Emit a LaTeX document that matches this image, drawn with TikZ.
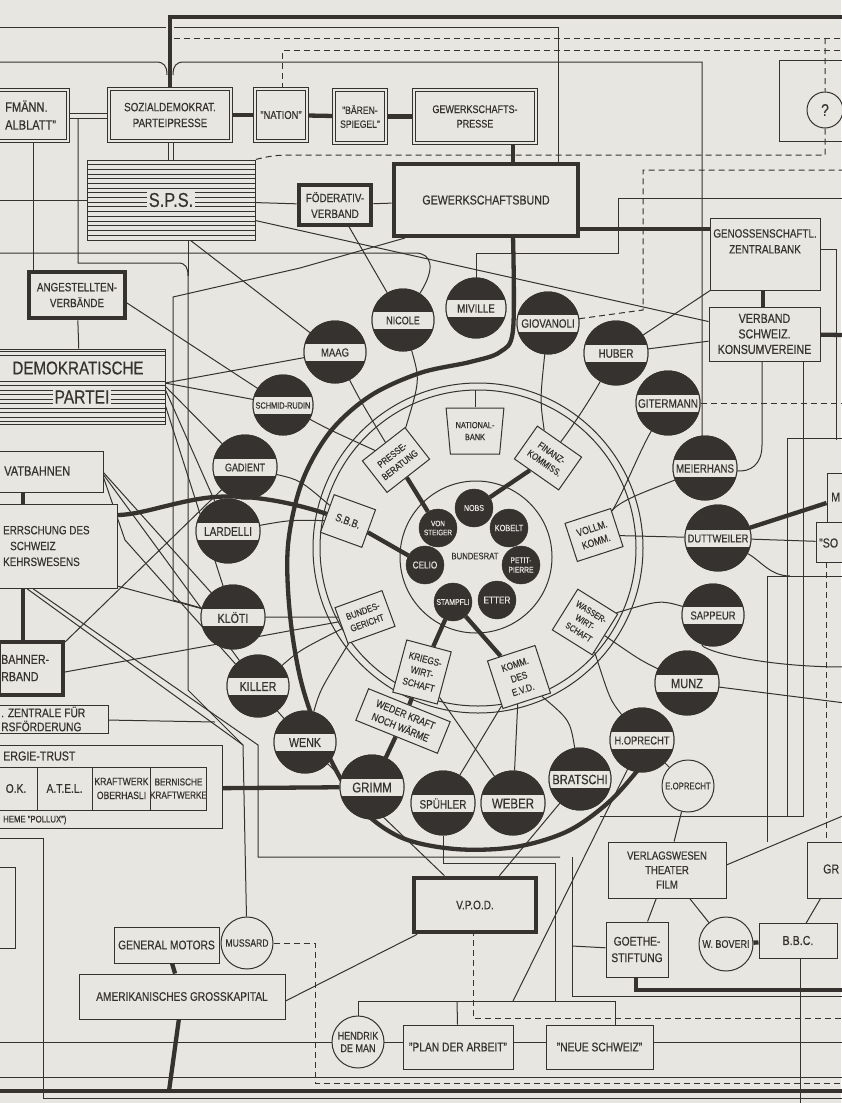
\documentclass[tikz,border=0pt]{standalone}
\usepackage{fontspec}
\setmainfont{Liberation Sans}[FakeStretch=0.82, FakeBold=0.4]
\usetikzlibrary{shapes.geometric}
\definecolor{bg}{HTML}{E7E6E1}
\definecolor{ink}{HTML}{353230}
\pgfdeclarelayer{back}
\pgfsetlayers{back,main}
\newcommand\fs[1]{\fontsize{#1}{\fpeval{1.32*#1}}\selectfont}
\tikzset{
 every node/.style={text=ink, align=center, font=\fs{10}, inner sep=1pt},
 ln/.style={draw=ink, line width=1pt},
 tk/.style={draw=ink, line width=4.3pt},
 dsh/.style={draw=ink, line width=1pt, dash pattern=on 6pt off 4pt},
 bx/.style={draw=ink, fill=bg, line width=1pt, rectangle, inner sep=0pt},
 dbx/.style={bx, double=bg, double distance=2.6pt},
 tbx/.style={bx, line width=4.6pt},
 bd/.style={circle, fill=ink, draw=ink, text=bg, minimum size=38pt, inner sep=0pt, font=\fs{9.5}},
 rb/.style={bx, inner sep=2pt, font=\fs{9.5}},
}
% \pers[label size]{name}{x}{y}{radius}{label}
\newcommand\pers[6][12]{%
 \node[circle,fill=ink,draw=ink,line width=1pt,minimum size=#5*2pt,inner sep=0pt] (#2) at (#3,#4) {};
 \begin{scope}
  \clip (#3,#4) circle[radius=#5pt];
  \fill[bg] (#3-#5-2,#4-9) rectangle (#3+#5+2,#4+9);
  \draw[ink,line width=0.8pt] (#3-#5-2,#4-9) -- (#3+#5+2,#4-9) (#3-#5-2,#4+9) -- (#3+#5+2,#4+9);
 \end{scope}
 \draw[ink,line width=1pt] (#3,#4) circle[radius=#5pt];
 \node[font=\fs{#1}, inner sep=0pt] (#2-l) at (#3,#4+0.5) {#6};
}
\begin{document}
\begin{tikzpicture}[x=1pt,y=-1pt]
\begin{pgfonlayer}{back}
\fill[bg] (0,0) rectangle (841,1103);
\end{pgfonlayer}
\useasboundingbox (0,0) rectangle (841,1103);

% ---------- top row
\node[dbx, minimum width=86pt, minimum height=51pt] (kauf) at (25,115.5) {};
\node[anchor=west, align=left, font=\fs{13.5}] (kaufl) at (4,115) {FMÄNN.\\ALBLATT"};
\node[dbx, minimum width=122pt, minimum height=52pt, font=\fs{12}] (sozial) at (170,115) {SOZIALDEMOKRAT.\\PARTEIPRESSE};
\node[dbx, minimum width=52pt, minimum height=52pt, font=\fs{11.5}] (nation) at (281,115) {"NATION"};
\node[dbx, minimum width=52pt, minimum height=53pt, font=\fs{10.5}] (baeren) at (360,116.5) {"BÄREN-\\SPIEGEL"};
\node[dbx, minimum width=122pt, minimum height=53pt, font=\fs{11}] (gpresse) at (475,116.5) {GEWERKSCHAFTS-\\PRESSE};

\node[draw=ink, fill=bg, line width=1pt, minimum width=168pt, minimum height=80pt] (sps) at (171,200) {};
\foreach \yy in {164.5,169.2,...,237} \draw[ink, line width=0.7pt] (87,\yy) -- (255,\yy);
\node[fill=bg, font=\fs{20}, inner sep=2pt] (spsl) at (171,200) {S.P.S.};
\node[tbx, minimum width=72pt, minimum height=40pt, font=\fs{12}] (foed) at (335,205) {FÖDERATIV-\\VERBAND};
\node[tbx, minimum width=184pt, minimum height=72pt, font=\fs{13}] (gwb) at (486,200) {GEWERKSCHAFTSBUND};

% ---------- left column
\node[tbx, minimum width=96pt, minimum height=46pt, font=\fs{12}] (ang) at (77,295) {ANGESTELLTEN-\\VERBÄNDE};
\node[draw=ink, fill=bg, line width=1pt, minimum width=170pt, minimum height=75pt] (dp) at (80,386.5) {};
\foreach \yy in {351,355.5,381,385.5,...,422} \draw[ink, line width=0.7pt] (-5,\yy) -- (165,\yy);
\node[font=\fs{18.5}, inner sep=0pt] (dpl1) at (78,368) {DEMOKRATISCHE};
\node[fill=bg, font=\fs{19}, inner sep=1.5pt] (dpl2) at (82,397) {PARTEI};
\node[bx, minimum width=108pt, minimum height=41pt] (priv) at (49,471.5) {};
\node[anchor=west, font=\fs{13.5}] (privl) at (3,471) {VATBAHNEN};
\node[bx, minimum width=122pt, minimum height=84pt] (erf) at (56,546) {};
\node[anchor=west, align=left, font=\fs{12}] (erfl) at (2,546) {ERRSCHUNG DES\\\hspace*{7pt}SCHWEIZ\\KEHRSWESENS};
\node[tbx, minimum width=64pt, minimum height=53pt] (eis) at (31,668.5) {};
\node[anchor=west, align=left, font=\fs{13}] (eisl) at (0,668) {BAHNER-\\RBAND};
\node[bx, minimum width=113pt, minimum height=28pt] (zent) at (51.5,719) {};
\node[anchor=west, align=left, font=\fontsize{12.5}{14}\selectfont] (zentl) at (0,719) {. ZENTRALE FÜR\\RSFÖRDERUNG};
\node[bx, minimum width=227pt, minimum height=83pt] (etrust) at (108.5,786.5) {};
\node[anchor=west, font=\fs{13}] (etl) at (2,756) {ERGIE-TRUST};
\node[bx, minimum width=42pt, minimum height=43pt, font=\fs{12.5}] (c1) at (16,788.5) {O.K.};
\node[bx, minimum width=55pt, minimum height=43pt, font=\fs{12.5}] (c2) at (64.5,788.5) {A.T.E.L.};
\node[bx, minimum width=59pt, minimum height=43pt, font=\fs{10.5}] (c3) at (121.5,788.5) {KRAFTWERK\\OBERHASLI};
\node[bx, minimum width=55pt, minimum height=43pt, font=\fs{10}] (c4) at (178.5,788.5) {BERNISCHE\\KRAFTWERKE};
\node[anchor=west, font=\fs{9.5}] (pollux) at (2,820) {HEME "POLLUX")};

% ---------- bottom
\node[bx, minimum width=25pt, minimum height=81pt] (lb) at (2.5,907.5) {};
\node[bx, minimum width=105pt, minimum height=36pt, font=\fs{12.5}] (gm) at (166.5,945) {GENERAL MOTORS};
\node[bx, circle, minimum size=52pt, font=\fs{10.5}] (mussard) at (247,943) {MUSSARD};
\node[bx, minimum width=206pt, minimum height=45pt, font=\fs{12.4}] (amerik) at (182,996.5) {AMERIKANISCHES GROSSKAPITAL};
\node[tbx, minimum width=122pt, minimum height=54pt, font=\fs{12.3}] (vpod) at (475,905) {V.P.O.D.};
\node[bx, circle, minimum size=52pt, font=\fontsize{11}{12.5}\selectfont] (hendrik) at (358,1042) {HENDRIK\\DE MAN};
\node[bx, minimum width=110pt, minimum height=44pt, font=\fs{12.5}] (plan) at (458,1047) {"PLAN DER ARBEIT"};
\node[bx, minimum width=107pt, minimum height=44pt, font=\fs{12.5}] (neue) at (599.5,1047) {"NEUE SCHWEIZ"};
\node[bx, minimum width=118pt, minimum height=56pt, font=\fontsize{11.6}{14.5}\selectfont] (verlag) at (667,870) {VERLAGSWESEN\\THEATER\\FILM};
\node[bx, minimum width=62pt, minimum height=55pt, font=\fs{12.5}] (goethe) at (637,949.5) {GOETHE-\\STIFTUNG};
\node[bx, circle, minimum size=54pt, font=\fs{11}] (boveri) at (726,944) {W. BOVERI};
\node[bx, minimum width=78pt, minimum height=35pt, font=\fs{13}] (bbc) at (798,940.5) {B.B.C.};
\node[bx, minimum width=50pt, minimum height=56pt] (gr) at (832,870) {};
\node[anchor=west, font=\fs{13}] (grl) at (822,869) {GR};

% ---------- right column
\node[draw=ink, line width=1pt, minimum width=71pt, minimum height=81pt] (qbox) at (814.5,100.5) {};
\node[bx, circle, minimum size=36pt, font=\fs{17}] (qc) at (825,110) {?};
\node[bx, minimum width=110pt, minimum height=72pt] (genz) at (765,254) {};
\node[font=\fs{12}, anchor=north] (genzl) at (765,228) {GENOSSENSCHAFTL.\\ZENTRALBANK};
\node[bx, minimum width=111pt, minimum height=54pt, font=\fontsize{13}{15.5}\selectfont] (verband) at (764.5,334) {VERBAND\\SCHWEIZ.\\KONSUMVEREINE};
\node[bx, minimum width=30pt, minimum height=50pt] (mbox) at (842,498) {};
\node[anchor=west, font=\fs{13}] (mboxl) at (830,497) {M};
\node[bx, minimum width=40pt, minimum height=40pt] (sobox) at (836,542) {};
\node[anchor=west, font=\fs{13}] (sol) at (818,543) {"SO};

% ---------- inner boxes round the Bundesrat
\node[rb, rotate=38, minimum width=54pt, minimum height=40pt] (presse) at (396,460) {PRESSE-\\BERATUNG};
\node[trapezium, trapezium angle=80, shape border rotate=180, trapezium stretches=true, draw=ink, fill=bg, line width=1pt, minimum width=58pt, minimum height=46pt, inner sep=1pt, font=\fs{9}] (natbank) at (475,431) {NATIONAL-\\BANK};
\node[rb, rotate=-35, minimum width=54pt, minimum height=40pt] (finanz) at (548,458) {FINANZ-\\KOMMISS.};
\node[rb, rotate=-20, minimum width=44pt, minimum height=40pt, font=\fs{11}] (sbb) at (348,521) {S.B.B.};
\node[rb, rotate=18, minimum width=48pt, minimum height=40pt, font=\fs{10.5}] (vollm) at (594,535) {VOLLM.\\KOMM.};
\node[rb, rotate=20, minimum width=50pt, minimum height=38pt] (bger) at (365,617) {BUNDES-\\GERICHT};
\node[rb, rotate=-32, minimum width=47pt, minimum height=48pt, font=\fs{9}] (wasser) at (585,622) {WASSER-\\WIRT-\\SCHAFT};
\node[rb, rotate=-15, minimum width=46pt, minimum height=54pt, font=\fs{10}] (kriegs) at (422,672) {KRIEGS-\\WIRT-\\SCHAFT};
\node[rb, rotate=18, minimum width=50pt, minimum height=50pt, font=\fs{10}] (kevd) at (519,677) {KOMM.\\DES\\E.V.D.};
\node[rb, rotate=-22, minimum width=88pt, minimum height=34pt, font=\fs{10.5}] (weder) at (403,721) {WEDER KRAFT\\NOCH WÄRME};

% ---------- Bundesrat
\node[bd, font=\fs{8.6}] (nobs) at (474,508) {NOBS};
\node[bd, font=\fontsize{7.8}{9}\selectfont] (steiger) at (438,528) {VON\\STEIGER};
\node[bd, font=\fs{9}] (kobelt) at (509,528) {KOBELT};
\node[bd, font=\fs{10}] (celio) at (425,565) {CELIO};
\node[bd, font=\fontsize{8.2}{9.5}\selectfont] (petit) at (521,565) {PETIT-\\PIERRE};
\node[bd, font=\fs{8.4}] (stampfli) at (453,602) {STAMPFLI};
\node[bd, font=\fs{10}] (etter) at (497,600) {ETTER};
\node[font=\fs{9.4}] (brat) at (475,556) {BUNDESRAT};

% ---------- persons
\pers[11]{nicole}{403}{320}{31}{NICOLE}
\pers[12]{miville}{476}{308}{30}{MIVILLE}
\pers[12]{giovanoli}{548}{323}{31}{GIOVANOLI}
\pers[12.2]{huber}{616}{353}{32}{HUBER}
\pers[12.2]{gitermann}{668}{403}{32}{GITERMANN}
\pers[11.9]{meierhans}{705}{468}{32}{MEIERHANS}
\pers[11.4]{duttweiler}{718}{538}{33}{DUTTWEILER}
\pers[11.5]{sappeur}{713}{615}{31}{SAPPEUR}
\pers[13.5]{munz}{687}{683}{32}{MUNZ}
\pers[11.4]{hoprecht}{642}{740}{32}{H.OPRECHT}
\pers[13.5]{bratschi}{580}{779}{31}{BRATSCHI}
\pers[14]{weber}{513}{803}{32}{WEBER}
\pers[12.1]{spuehler}{443}{803}{32}{SPÜHLER}
\pers[14]{grimm}{372}{787}{32}{GRIMM}
\pers[13]{wenk}{305}{742}{31}{WENK}
\pers[13]{killer}{258}{686}{31}{KILLER}
\pers[13]{kloeti}{233}{617}{32}{KLÖTI}
\pers[12.4]{lardelli}{228}{531}{32}{LARDELLI}
\pers[11]{gadient}{245}{467}{32}{GADIENT}
\pers[9]{schmid}{283}{405}{30}{SCHMID-RUDIN}
\pers[11.6]{maag}{335}{352}{31}{MAAG}
\node[bx, circle, minimum size=52pt, font=\fs{9.5}] (eopr) at (688,786) {E.OPRECHT};

% ================= connectors (behind)
\begin{pgfonlayer}{back}
% rings
\draw[ln] (478,548) circle[radius=158pt];
\draw[ln] (478,548) circle[radius=165pt];
\draw[ln] (476,557) circle[radius=76pt];
\draw[tk] plot[smooth, tension=0.55] coordinates {(513,236) (513,330) (500,352) (470,362) (420,373) (370,396) (330,432) (302,482) (288,545) (290,615) (302,685) (325,748) (358,805) (400,837) (455,849) (515,847) (568,831) (610,801) (642,765)};
% top
\draw[tk] (sozial.north) -- (170,17) -- (845,17);
\draw[ln] (-5,27) -- (166,27);
\draw[ln] (174,27) -- (558,27) -- (558,166);
\draw[dsh] (174,38) -- (845,38);
\draw[dsh] (nation.north -| 282,0) -- (282,50) -- (845,50);
\draw[ln] (-5,62) -- (156,62) .. controls (164,62) and (167,66) .. (167,75);
\draw[ln] (173,75) .. controls (173,66) and (176,62) .. (184,62) -- (702,62) -- (meierhans.center -| 702,0);
\draw[dsh] (825,38) -- (qc) -- (825,155) -- (290,155) .. controls (272,155) and (262,158) .. (sps.north east);
\draw[tk] (sozial) -- (nation);
\draw[tk] (nation) -- (baeren);
\draw[tk] (baeren) -- (gpresse);
\draw[tk] (513,130) -- (513,170);
\draw[ln] (kauf.east |- 0,113) -- (sozial.west |- 0,113);
\draw[ln] (sozial.west |- 0,118) -- (kauf.east |- 0,118);
\draw[ln] (78,118) -- (78,263) -- (178,263) .. controls (186,263) and (188,268) .. (188,276) -- (188,690) -- (243,745) -- (mussard);
\draw[ln] (188,238) -- (188,276);
\draw[ln] (33,141) -- (ang.north -| 33,0);
\draw[ln] (168.5,140) -- (168.5,162);
\draw[ln] (173.5,140) -- (173.5,162);
\draw[ln] (-5,200) -- (sps);
\draw[ln] (sps) -- (foed);
\draw[ln] (foed) -- (gwb);
\draw[ln] (348,225) -- (nicole);
\draw[ln] (253,220) -- (verband);
\draw[ln] (190,240) -- (maag);
\draw[ln] (405,238) -- (300,268) -- (173,297) -- (173,600) -- (kloeti);
\draw[ln] (-5,253) -- (415,253) .. controls (432,253) and (436,268) .. (nicole);
\draw[ln] (miville) -- (476,253) -- (618,253) -- (618,198) -- (845,198);
\draw[dsh] (giovanoli) -- (643,310) -- (643,170) -- (845,170);
\draw[dsh] (gitermann) -- (845,403);
\draw[tk] (gwb.east |- 0,229) -- (genz.west |- 0,229);
\draw[tk] (763,288) -- (763,309);
\draw[tk] (verband) -- (845,335);
\draw[ln] (818,249) -- (836,249) -- (836,440);
\draw[ln] (762,359) -- (762,445) .. controls (762,465) and (750,472) .. (meierhans);
\draw[ln] (huber) -- (verband);
\draw[ln] (huber) -- (genz);
\draw[ln] (845,438) -- (787,438) -- (787,816);
\draw[ln] (803,359) -- (803,816) -- (600,816);
\draw[ln] (845,576) -- (767,576) -- (767,842);
\draw[tk] (duttweiler) -- (mbox);
\draw[ln] (duttweiler) -- (sobox);
\draw[ln] (duttweiler) .. controls (760,560) and (770,576) .. (790,576);
\draw[ln] (sappeur) .. controls (700,650) and (760,667) .. (845,667);
\draw[ln] (munz) -- (845,703);
\draw[dsh] (826,562) -- (826,842);
% left
\draw[ln] (ang) -- (dp);
\draw[ln] (127,303) -- (schmid);
\draw[ln] (165,383) -- (maag);
\draw[ln] (165,383) -- (schmid);
\draw[ln] (165,386) -- (gadient);
\draw[ln] (165,389) -- (lardelli);
\draw[ln] (162,395) -- (kloeti);
\draw[ln] (103,472) -- (kloeti);
\draw[ln] (103,474) -- (killer);
\draw[ln] (103,476) -- (125,540) -- (wenk);
\draw[tk] (23,490) -- (23,506);
\draw[tk] (sbb) .. controls (300,505) and (250,492) .. (205,498) .. controls (170,503) and (140,515) .. (117,515);
\draw[ln] (117,586) -- (kloeti);
\draw[ln] (26,588) -- (243,745);
\draw[ln] (32,588) -- (258,745) -- (258,857) -- (560,857);
\draw[tk] (23,586) -- (23,642);
\draw[ln] (65,672) -- (bger);
\draw[ln] (65,642) -- (gadient);
\draw[ln] (106,720) -- (215,722);
\draw[tk] (c4) -- (grimm);
\draw[tk, rounded corners=6pt] (117,808) -- (117,818) -- (204,818) -- (210,787);
% bottom
\draw[ln] (-5,838) -- (43,838) -- (43,1098) -- (845,1098);
\draw[dsh] (mussard) -- (315,943) -- (315,1083) -- (845,1083);
\draw[tk] (gm) -- (amerik);
\draw[tk] (amerik) -- (169,1091);
\draw[tk] (-5,1091) -- (845,1091);
\draw[ln] (-5,1042) -- (845,1042);
\draw[ln] (-5,1077) -- (845,1077);
\draw[ln] (vpod) -- (amerik.east |- 0,1001);
\draw[dsh] (473,930) -- (473,1018) -- (845,1018);
\draw[ln] (hendrik) -- (358,1001) -- (615,1001) -- (615,1030);
\draw[ln] (457,1001) -- (plan);
\draw[ln] (spuehler) -- (443,863) -- (555,863) -- (555,1001);
\draw[ln] (513,1001) -- (hoprecht);
\draw[ln] (vpod) -- (bratschi);
\draw[ln] (vpod) -- (wenk);
\draw[ln] (572,857) -- (572,996) -- (845,996);
\draw[ln] (goethe) -- (572,946);
\draw[tk] (636,970) -- (636,990) -- (845,990);
\draw[ln] (verlag) -- (goethe);
\draw[ln] (verlag) -- (boveri);
\draw[tk] (boveri) -- (bbc);
\draw[ln] (822,896) -- (805,925);
\draw[ln] (800,950) -- (800,1105);
\draw[ln] (724,866) -- (845,815);
\draw[ln] (verlag) -- (eopr);
\draw[ln] (hoprecht) -- (eopr);
% person to inner ring
\draw[tk] (nobs) -- (finanz);
\draw[tk] (steiger) -- (presse);
\draw[tk] (celio) -- (sbb);
\draw[tk] (stampfli) -- (kriegs);
\draw[tk] (stampfli) -- (kevd);
\draw[tk] (kriegs) -- (weder);
\draw[tk] (weder) -- (grimm);
\draw[ln] (natbank) -- (475,390);
\draw[ln] (schmid) .. controls (330,430) .. (presse);
\draw[ln] (maag) .. controls (360,400) .. (presse);
\draw[ln] (nicole) .. controls (420,380) .. (presse);
\draw[ln] (giovanoli) .. controls (540,400) .. (finanz);
\draw[ln] (huber) .. controls (590,400) and (570,430) .. (finanz);
\draw[ln] (gitermann) .. controls (640,450) and (620,500) .. (vollm);
\draw[ln] (meierhans) .. controls (650,490) and (620,500) .. (vollm);
\draw[ln] (duttweiler) -- (vollm);
\draw[ln] (sappeur) .. controls (660,600) .. (wasser);
\draw[ln] (munz) .. controls (640,660) .. (wasser);
\draw[ln] (hoprecht) .. controls (610,700) .. (wasser);
\draw[ln] (bratschi) .. controls (570,720) .. (kevd);
\draw[ln] (weber) -- (kevd);
\draw[ln] (spuehler) -- (kevd);
\draw[ln] (weber) -- (kriegs);
\draw[ln] (wenk) .. controls (320,690) .. (bger);
\draw[ln] (killer) .. controls (300,650) .. (bger);
\draw[ln] (kloeti) -- (bger);
\draw[ln] (lardelli) .. controls (290,520) .. (sbb);
\draw[ln] (gadient) .. controls (300,480) .. (sbb);
\end{pgfonlayer}
\end{tikzpicture}
\end{document}
